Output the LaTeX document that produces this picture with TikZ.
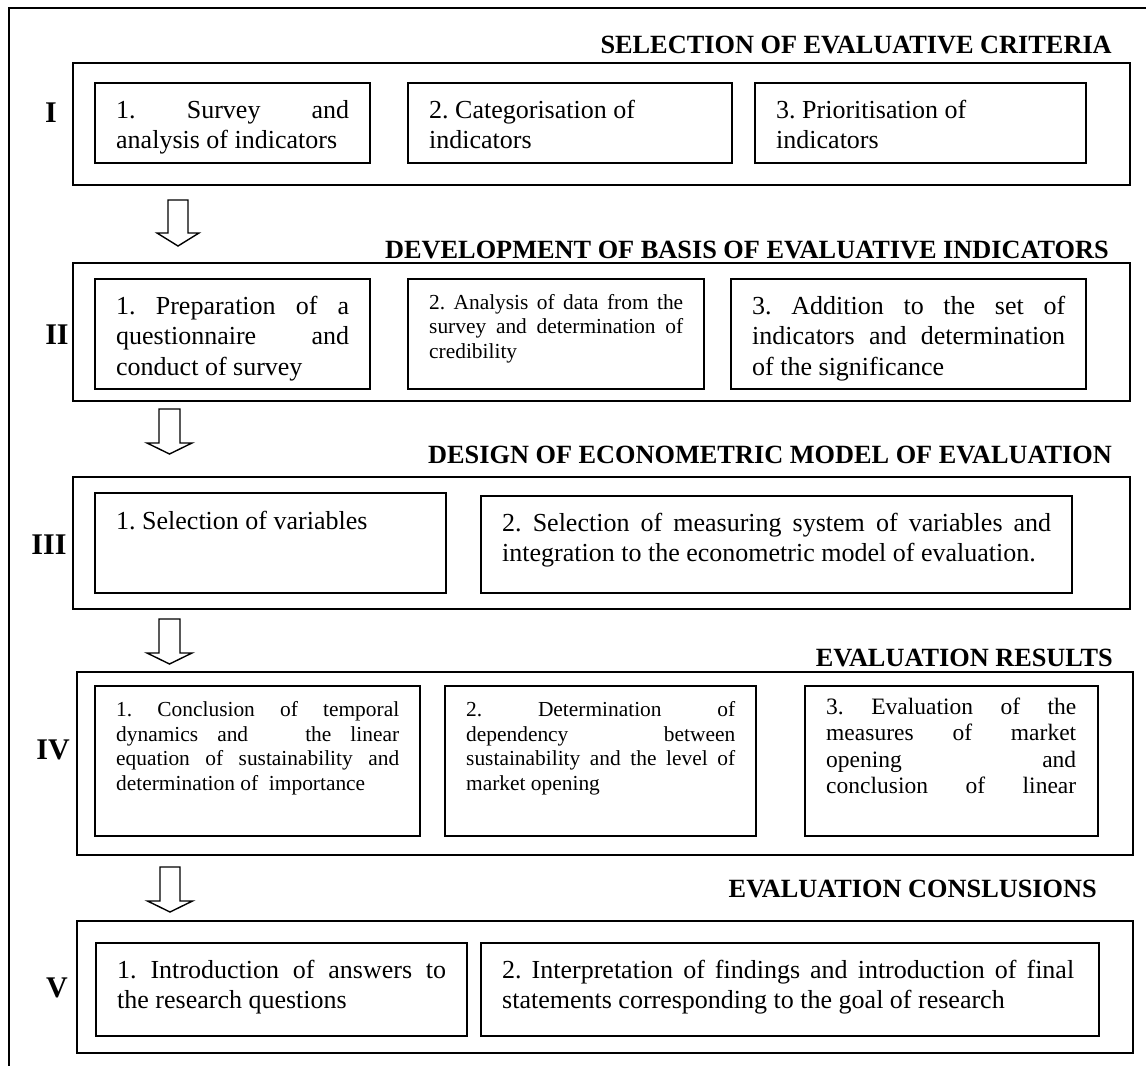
\documentclass[tikz,border=0pt]{standalone}
\usepackage{fontspec}
\setmainfont{Liberation Serif}
\usetikzlibrary{fit}
% a block of lines of given width; justified line and natural line
\newcommand{\tbox}[2]{\vtop{\hsize=#1\relax #2}}
\newcommand{\jline}[1]{\hbox to\hsize{#1}}
\newcommand{\nline}[1]{\hbox{#1}}
% cx, top, head y, tip y, shaft half width, head half width
\newcommand{\blockarrow}[6]{%
  \draw[barrow] ({#1-#5},#2) -- ({#1+#5},#2) -- ({#1+#5},#3) -- ({#1+#6},#3)
    -- (#1,#4) -- ({#1-#6},#3) -- ({#1-#5},#3) -- cycle;}
\frenchspacing
\begin{document}
\begin{tikzpicture}[x=1pt,y=-1pt,
  box/.style={draw, line width=1.4pt, inner sep=0pt, outer sep=0pt},
  framebar/.style={line width=2pt},
  ttl/.style={anchor=base east, inner sep=0pt, font=\bfseries\fontsize{26.3}{30}\selectfont},
  num/.style={inner sep=0pt, font=\bfseries\fontsize{30}{34}\selectfont},
  txt/.style={anchor=base west, inner sep=0pt, font=\fontsize{26}{30.5}\selectfont},
  stxt/.style={anchor=base west, inner sep=0pt, font=\fontsize{21.4}{24.6}\selectfont},
  mtxt/.style={anchor=base west, inner sep=0pt, font=\fontsize{23.5}{26.5}\selectfont},
  barrow/.style={draw, line width=1.4pt, line join=miter}]
\useasboundingbox (0,0) rectangle (1146,1066);
\draw[framebar] (1146,8) -- (9,8) -- (9,1066);

% ---------- Section I
\node[ttl] (h1) at (1112,53) {SELECTION OF EVALUATIVE CRITERIA};
\node[box, fit={(73,63) (1130,185)}] (s1) {};
\node[num] (n1) at (51,113) {I};
\node[box, fit={(95,83) (370,163)}] (b11) {};
\node[box, fit={(408,83) (732,163)}] (b12) {};
\node[box, fit={(755,83) (1086,163)}] (b13) {};
\node[txt] (t11) at (116,118) {\tbox{233pt}{\jline{1. Survey and}\nline{analysis of indicators}}};
\node[txt] (t12) at (429,118) {\tbox{282pt}{\nline{2. Categorisation of}\nline{indicators}}};
\node[txt] (t13) at (776,118) {\tbox{289pt}{\nline{3. Prioritisation of}\nline{indicators}}};

\blockarrow{178}{200}{233}{246}{10}{21}

% ---------- Section II
\node[ttl] (h2) at (1109,258) {DEVELOPMENT OF BASIS OF EVALUATIVE INDICATORS};
\node[box, fit={(73,263) (1130,401)}] (s2) {};
\node[num] (n2) at (57,335) {II};
\node[box, fit={(95,279) (370,389)}] (b21) {};
\node[box, fit={(408,279) (704,389)}] (b22) {};
\node[box, fit={(731,279) (1086,389)}] (b23) {};
\node[txt] (t21) at (116,314) {\tbox{233pt}{\jline{1. Preparation of a}\jline{questionnaire and}\nline{conduct of survey}}};
\node[stxt] (t22) at (429,309) {\tbox{254pt}{\jline{2. Analysis of data from the}\jline{survey and determination of}\nline{credibility}}};
\node[txt] (t23) at (752,314) {\tbox{313pt}{\jline{3. Addition to the set of}\jline{indicators and determination}\nline{of the significance}}};

\blockarrow{169.5}{409}{443}{454}{10.5}{22.5}

% ---------- Section III
\node[ttl] (h3) at (1112,463) {DESIGN OF ECONOMETRIC MODEL OF EVALUATION};
\node[box, fit={(73,477) (1130,609)}] (s3) {};
\node[num] (n3) at (49,545) {III};
\node[box, fit={(95,493) (446,593)}] (b31) {};
\node[box, fit={(481,496) (1072,593)}] (b32) {};
\node[txt] (t31) at (116,529) {\tbox{300pt}{\nline{1. Selection of variables}}};
\node[txt] (t32) at (502,531) {\tbox{549pt}{\jline{2. Selection of measuring system of variables and}\nline{integration to the econometric model of evaluation.}}};

\blockarrow{169.5}{619}{653}{664}{10.5}{22.5}

% ---------- Section IV
\node[ttl] (h4) at (1113,666) {EVALUATION RESULTS};
\node[box, fit={(77,672) (1133,855)}] (s4) {};
\node[num] (n4) at (53,750) {IV};
\node[box, fit={(95,686) (420,836)}] (b41) {};
\node[box, fit={(445,686) (756,836)}] (b42) {};
\node[box, fit={(805,686) (1098,836)}] (b43) {};
\node[stxt] (t41) at (116,716.5) {\tbox{283pt}{\jline{1. Conclusion of temporal}\jline{dynamics and\ \ \ the linear}\jline{equation of sustainability and}\nline{determination of\ \ importance}}};
\node[stxt] (t42) at (466,716.5) {\tbox{269pt}{\jline{2. Determination of}\jline{dependency between}\jline{sustainability and the level of}\nline{market opening}}};
\node[mtxt] (t43) at (826,714) {\tbox{250pt}{\jline{3. Evaluation of the}\jline{measures of market}\jline{opening and}\jline{conclusion of linear}}};

\blockarrow{170}{867}{901}{912}{10}{22.5}

% ---------- Section V
\node[ttl] (h5) at (1097,897) {EVALUATION CONSLUSIONS};
\node[box, fit={(77,921) (1133,1053)}] (s5) {};
\node[num] (n5) at (57,988) {V};
\node[box, fit={(96,943) (467,1036)}] (b51) {};
\node[box, fit={(481,943) (1099,1036)}] (b52) {};
\node[txt] (t51) at (117,978) {\tbox{329pt}{\jline{1. Introduction of answers to}\nline{the research questions}}};
\node[txt] (t52) at (502,978) {\tbox{572pt}{\jline{2. Interpretation of findings and introduction of final}\nline{statements corresponding to the goal of research}}};
\end{tikzpicture}
\end{document}
